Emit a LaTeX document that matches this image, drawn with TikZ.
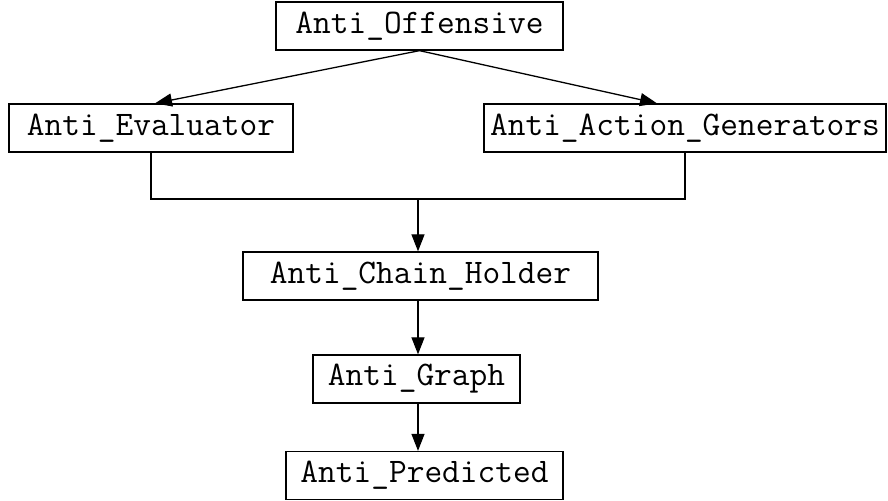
\documentclass[tikz,border=0pt]{standalone}
\usetikzlibrary{arrows.meta,calc}

\begin{document}
\begin{tikzpicture}[x=0.5pt,y=-0.5pt,
        caja/.style={draw,line width=0.65pt,minimum height=24pt,inner sep=0pt,font=\fontsize{17.2}{20}\selectfont\ttfamily},
        flecha/.style={-{Triangle[length=8.5pt,width=6.5pt]},line width=0.65pt},
        linea/.style={line width=0.65pt}]
        \useasboundingbox (0,0) rectangle (888,501);
        \node[caja,minimum width=143.5pt] (off) at (419.5,26) {Anti\_Offensive};
        \node[caja,minimum width=142pt] (eval) at (151,128) {Anti\_Evaluator};
        \node[caja,minimum width=201pt] (act) at (685,128) {Anti\_Action\_Generators};
        \node[caja,minimum width=177.5pt] (chain) at (420.5,276) {Anti\_Chain\_Holder};
        \node[caja,minimum width=103.5pt] (graph) at (416.5,379) {Anti\_Graph};
        \node[caja,minimum width=138.5pt] (pred) at (424.5,475.5) {Anti\_Predicted};
        \coordinate (jun) at (418,199);
        \draw[flecha] (off.south) -- ([xshift=2pt]eval.north);
        \draw[flecha] (off.south) -- ([xshift=-14pt]act.north);
        \draw[linea] (eval.south) |- (jun) -| (act.south);
        \draw[flecha] (jun) -- (jun |- chain.north);
        \draw[flecha] (jun |- chain.south) -- (jun |- graph.north);
        \draw[flecha] (jun |- graph.south) -- (jun |- pred.north);
\end{tikzpicture}
\end{document}
